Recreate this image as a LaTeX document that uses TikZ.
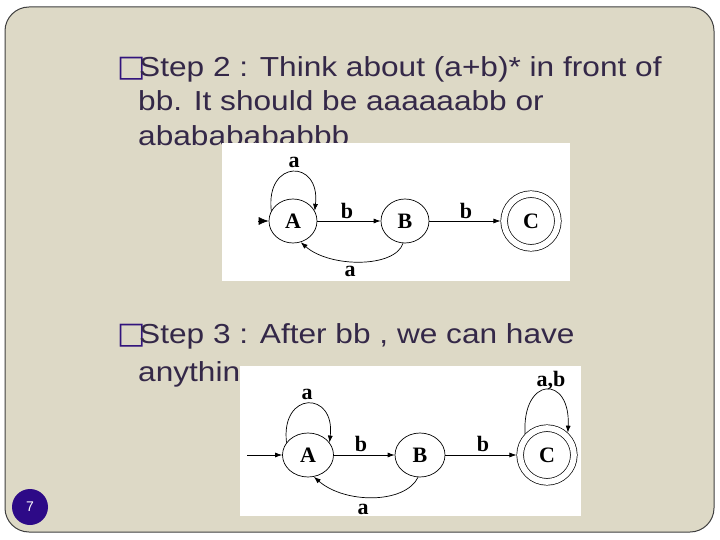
\documentclass[tikz,border=0pt]{standalone}
\usepackage{fontspec}
\setmainfont{Liberation Sans}
\newfontfamily\slidefont{Liberation Sans}[FakeStretch=1.15]
\newfontfamily\figfont{Liberation Serif}
\newfontfamily\bulfont{DejaVu Sans}
\usetikzlibrary{arrows.meta,shapes.geometric}
\definecolor{slidebg}{RGB}{221,217,198}
\definecolor{slideline}{RGB}{64,64,64}
\definecolor{bodytext}{RGB}{52,40,72}
\definecolor{bulletblue}{RGB}{50,20,125}
\definecolor{numblue}{RGB}{45,10,135}

\begin{document}
\begin{tikzpicture}[x=1pt,y=1pt,
  body/.style={anchor=base west,inner sep=0pt,text=bodytext,font=\slidefont\fontsize{27.5}{33}\selectfont},
  bul/.style={anchor=base west,inner sep=0pt,text=bulletblue,font=\bulfont\fontsize{30}{30}\selectfont},
  state/.style={draw,ellipse,minimum width=48pt,minimum height=44pt,inner sep=0pt,line width=0.7pt,font=\figfont\bfseries\fontsize{22}{22}\selectfont},
  accept/.style={draw,circle,double,double distance=6pt,minimum size=53.7pt,inner sep=0pt,outer sep=3.7pt,line width=0.7pt,font=\figfont\bfseries\fontsize{22}{22}\selectfont},
  lbl/.style={inner sep=0pt,font=\figfont\bfseries\fontsize{22}{22}\selectfont},
  trans/.style={line width=0.7pt,-{Latex[length=7pt,width=5pt]}}]
\useasboundingbox (0,0) rectangle (720,-540);
\fill[white] (0,0) rectangle (720,-540);
\draw[slideline,fill=slidebg,line width=1pt,rounded corners=24pt] (5,-7) rectangle (714,-532);

% slide text
\node[bul] (b2) at (117,-77) {□};
\node[body] (t2a) at (139,-77) {Step 2 : Think about (a+b)* in front of};
\node[body] (t2b) at (138,-111) {bb. It should be aaaaaabb or};
\node[body] (t2c) at (138,-146) {abababababbb};
\node[bul] (b3) at (117,-343) {□};
\node[body] (t3a) at (139,-343) {Step 3 : After bb , we can have};
\node[body] (t3b) at (138,-381) {anything};

% first automaton
\fill[white] (222,-143) rectangle (570,-281);
\node[state] (A1) at (293,-221) {A};
\node[state] (B1) at (405,-221) {B};
\node[accept] (C1) at (531,-221) {C};
\coordinate (s1) at (258,-221);
\draw[trans,-{Latex[length=10pt,width=8pt]}] (s1) -- (A1);
\draw[trans] (A1) -- (B1);
\draw[trans] (B1) -- (C1);
\draw[trans] (A1.155) .. controls +(-6,52) and +(6,52) .. (A1.25);
\draw[trans] (B1.265) .. controls (395,-268) and (330,-268) .. (A1.290);
\node[lbl] (la1) at (294,-162) {a};
\node[lbl] (lb1) at (347,-211) {b};
\node[lbl] (lc1) at (466,-211) {b};
\node[lbl] (ld1) at (350,-271) {a};

% second automaton
\fill[white] (240,-366) rectangle (581,-516);
\node[state,minimum width=51pt] (A2) at (308,-455) {A};
\node[state,minimum width=50pt] (B2) at (420,-455) {B};
\node[accept] (C2) at (547,-455) {C};
\coordinate (s2) at (247,-455);
\draw[trans] (s2) -- (A2);
\draw[trans] (A2) -- (B2);
\draw[trans] (B2) -- (C2);
\draw[trans] (A2.150) .. controls +(-6,52) and +(6,52) .. (A2.30);
\draw[trans] (C2.136) .. controls +(-3,58) and +(3,58) .. (C2.47);
\draw[trans] (B2.265) .. controls (405,-504) and (345,-504) .. (A2.285);
\node[lbl] (la2) at (307,-394) {a};
\node[lbl] (lb2) at (361,-444) {b};
\node[lbl] (lc2) at (483,-444) {b};
\node[lbl] (ld2) at (363,-509) {a};
\node[lbl] (le2) at (551,-381) {a,b};

% page number
\node[circle,fill=numblue,minimum size=36pt,inner sep=0pt,text=white,font=\fontsize{14}{14}\selectfont] (pg) at (30,-507) {7};
\end{tikzpicture}
\end{document}
